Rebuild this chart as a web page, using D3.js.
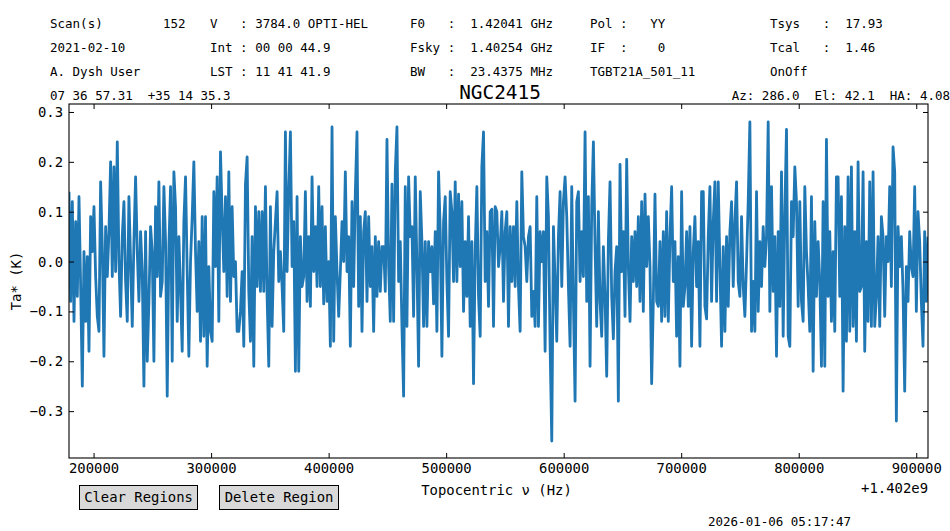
<!DOCTYPE html>
<html>
<head>
<meta charset="utf-8">
<script src="https://cdn.jsdelivr.net/npm/d3@7"></script>
<style>
  body { margin: 0; background: #fff; }
  text { font-family: "DejaVu Sans Mono", monospace; fill: #000; }
</style>
</head>
<body>
<div id="chart"></div>
<script>
// Spectrum: Ta* per channel, channels start at freqStart (Hz, offset from 1.402e9)
const freqStart = 179087;
const chanWidth = 1416.5;
const taValues = [
  0.14, -0.08, 0.12, -0.12, 0.08, -0.07, 0.13, -0.05, -0.25, 0.02,
  -0.12, 0.01, -0.18, 0.09, 0.02, 0.11, -0.03, -0.11, -0.14, 0.16,
  0.03, -0.19, 0.07, -0.03, 0.06, 0.20, -0.03, 0.19, -0.02, 0.24,
  0.0, -0.11, 0.05, 0.12, -0.04, -0.12, 0.13, 0.0, -0.13, 0.04,
  0.17, 0.02, -0.08, 0.06, -0.02, -0.25, 0.06, -0.20, -0.08, 0.07,
  // ~152 px
  0.02, -0.20, 0.11, -0.03, 0.16, -0.07, -0.04, 0.15, 0.04, -0.27,
  0.03, 0.15, -0.20, 0.18, 0.11, -0.12, 0.05, -0.06, -0.18, 0.08,
  0.17, -0.02, -0.19, 0.0, 0.09, 0.20, 0.02, -0.10, 0.04, -0.16,
  0.09, -0.15, 0.09, -0.21, -0.01, -0.14, -0.16, 0.14, -0.01, 0.17,
  -0.12, 0.22, 0.09, -0.02, 0.13, -0.07, 0.18, -0.08, 0.11, -0.03,
  0.0, -0.14,
  // ~238 px
  -0.14, -0.10, -0.02, -0.17, 0.155, 0.21, -0.06, -0.16, 0.05, -0.21,
  0.11, -0.05, 0.10, -0.06, 0.10, -0.06, 0.15, -0.07, -0.21, 0.11,
  -0.13, 0.02, 0.08, 0.14, -0.04, 0.02, -0.05, -0.14, 0.26, -0.02,
  0.14, 0.26, -0.01, 0.08, -0.22, 0.13, -0.22, 0.05, -0.05, -0.03,
  0.14, -0.08, 0.05, -0.09, 0.17, -0.02, 0.07, -0.05, 0.15, -0.05,
  0.11,
  // ~324 px
  -0.085, 0.07, -0.08, 0.0, -0.17, 0.27, -0.16, 0.09, -0.02, -0.11,
  -0.02, 0.08, 0.0, 0.18, -0.02, 0.05, -0.17, 0.12, -0.05, 0.14,
  0.26, -0.09, 0.09, -0.14, 0.06, 0.10, -0.08, 0.09, -0.05, 0.03,
  -0.14, 0.05, -0.07, 0.04, -0.06, 0.03, 0.03, -0.06, 0.245, -0.01,
  -0.12, 0.155, -0.12, 0.18, 0.27, -0.04, 0.04, -0.13, -0.27, 0.15,
  -0.13, 0.17,
  // ~410 px
  0.05, 0.07, -0.11, 0.17, -0.01, -0.21, 0.14, 0.04, -0.13, 0.04,
  -0.13, 0.04, -0.02, 0.03, -0.085, 0.06, -0.14, 0.18, 0.06, -0.19,
  0.08, 0.13, -0.04, -0.15, 0.14, 0.10, -0.04, 0.16, -0.04, 0.135,
  -0.01, 0.12, -0.10, 0.04, -0.07, 0.09, -0.13, 0.04, -0.245, 0.02,
  0.15, -0.07, -0.15, 0.19, 0.26, -0.04, 0.06, -0.09, 0.10, 0.105,
  -0.13, 0.11,
  // ~496 px
  0.10, -0.01, 0.03, 0.10, -0.08, 0.06, 0.10, -0.13, 0.07, -0.04,
  0.07, -0.05, 0.12, -0.05, -0.14, 0.18, 0.05, 0.03, -0.04, 0.05,
  0.07, -0.11, -0.06, -0.13, 0.13, -0.13, 0.06, 0.0, 0.06, -0.18,
  0.17, 0.09, -0.17, -0.36, 0.07, -0.04, -0.16, 0.05, 0.14, -0.05,
  0.12, 0.17, 0.09, -0.05, -0.17, 0.15, -0.08, -0.28, 0.12, 0.14,
  -0.04,
  // ~582 px
  0.06, -0.03, 0.26, -0.08, 0.13, -0.21, 0.11, 0.24, 0.03, -0.13,
  0.10, -0.08, -0.15, 0.03, -0.07, -0.23, 0.04, 0.16, -0.07, -0.155,
  -0.02, 0.03, -0.28, 0.195, -0.02, 0.06, -0.11, 0.205, -0.01, -0.12,
  0.05, -0.04, 0.06, -0.05, 0.09, -0.08, 0.12, -0.10, 0.135, -0.01,
  0.09, -0.01, -0.245, -0.08, 0.135, -0.08, -0.09, 0.04, -0.12, 0.06,
  -0.11, 0.10,
  // ~668 px
  -0.12, 0.05, 0.15, -0.04, 0.04, -0.15, 0.01, -0.21, 0.14, -0.09,
  -0.05, 0.06, -0.09, 0.07, -0.17, 0.02, 0.09, -0.05, 0.04, -0.17,
  0.14, 0.14, -0.09, -0.115, 0.05, 0.15, -0.08, 0.08, 0.16, -0.08,
  0.16, -0.01, -0.17, 0.03, -0.14, 0.05, -0.09, 0.06, 0.12, -0.05,
  0.08, 0.16, -0.04, -0.07, 0.09, -0.05, -0.11, 0.0, 0.12, 0.28,
  -0.14, -0.04,
  // ~754 px
  -0.14, 0.14, -0.10, 0.04, -0.05, 0.07, -0.01, 0.05, 0.28, -0.10,
  0.15, -0.06, 0.05, -0.19, 0.06, -0.09, 0.18, -0.15, 0.10, 0.265,
  -0.15, -0.17, 0.12, 0.05, 0.19, 0.12, -0.09, 0.12, -0.08, -0.12,
  0.15, 0.02, -0.05, -0.14, 0.13, -0.22, 0.08, -0.07, 0.04, -0.04,
  -0.21, 0.12, -0.21, 0.245, -0.07, 0.06, -0.12, 0.02, -0.14, 0.17,
  0.17,
  // ~840 px
  -0.07, 0.13, -0.26, 0.07, -0.16, 0.17, -0.14, 0.19, -0.13, 0.06,
  -0.16, 0.20, -0.06, -0.05, 0.18, -0.18, 0.04, -0.12, 0.16, -0.13,
  0.18, -0.13, -0.07, 0.05, -0.13, 0.09, 0.05, -0.11, 0.05, 0.0,
  0.15, -0.05, 0.23, 0.18, -0.32, 0.07, -0.01, 0.05, -0.06, -0.26,
  -0.01, -0.08, 0.06, -0.01, -0.03, 0.15, -0.10, 0.10, 0.04, -0.08,
  -0.17, 0.06, -0.08, 0.05
];
const xTicks = [200000, 300000, 400000, 500000, 600000, 700000, 800000, 900000];
const yTicks = [-0.3, -0.2, -0.1, 0.0, 0.1, 0.2, 0.3];

const headerRows = [
  ['Scan(s)', '152', 'V   : 3784.0 OPTI-HEL', 'F0   :  1.42041 GHz', 'Pol :   YY', 'Tsys   :  17.93'],
  ['2021-02-10', '', 'Int : 00 00 44.9', 'Fsky :  1.40254 GHz', 'IF  :    0', 'Tcal   :  1.46'],
  ['A. Dysh User', '', 'LST : 11 41 41.9', 'BW   :  23.4375 MHz', 'TGBT21A_501_11', 'OnOff']
];
const headerCols = [50, 163, 210, 410, 590, 770];

const width = 950, height = 531;
const margin = { top: 104, right: 22, bottom: 73, left: 69 };
const innerW = width - margin.left - margin.right;
const innerH = height - margin.top - margin.bottom;

const svg = d3.select('#chart').append('svg')
  .attr('width', width)
  .attr('height', height);

svg.append('rect').attr('width', width).attr('height', height).attr('fill', '#fff');

const data = taValues.map((v, i) => ({ f: freqStart + i * chanWidth, v: v }));

const x = d3.scaleLinear()
  .domain([freqStart, freqStart + (taValues.length - 1) * chanWidth])
  .range([0, innerW]);
const y = d3.scaleLinear()
  .domain([-0.394, 0.316])
  .range([innerH, 0]);

const g = svg.append('g')
  .attr('transform', `translate(${margin.left},${margin.top})`);

// clip so the line stays inside the frame
g.append('clipPath').attr('id', 'plot-clip')
  .append('rect').attr('width', innerW).attr('height', innerH);

g.append('path')
  .datum(data)
  .attr('clip-path', 'url(#plot-clip)')
  .attr('fill', 'none')
  .attr('stroke', '#1f77b4')
  .attr('stroke-width', 2.8)
  .attr('stroke-linejoin', 'round')
  .attr('d', d3.line().x(d => x(d.f)).y(d => y(d.v)));

// Axes with inward ticks on all sides
const styleAxis = sel => {
  sel.select('.domain').remove();
  sel.selectAll('.tick line').attr('stroke', '#000').attr('stroke-width', 1);
  sel.selectAll('text')
    .style('font-family', '"DejaVu Sans Mono", monospace')
    .style('font-size', '13.9px')
    .attr('fill', '#000');
};

g.append('g')
  .attr('transform', `translate(0,${innerH})`)
  .call(d3.axisBottom(x).tickValues(xTicks).tickFormat(d3.format('d'))
    .tickSizeInner(-5).tickSizeOuter(0).tickPadding(5))
  .call(styleAxis);

g.append('g')
  .call(d3.axisTop(x).tickValues(xTicks).tickFormat('')
    .tickSizeInner(-5).tickSizeOuter(0))
  .call(styleAxis);

g.append('g')
  .call(d3.axisLeft(y).tickValues(yTicks).tickFormat(d3.format('.1f'))
    .tickSizeInner(-5).tickSizeOuter(0).tickPadding(6))
  .call(styleAxis);

g.append('g')
  .attr('transform', `translate(${innerW},0)`)
  .call(d3.axisRight(y).tickValues(yTicks).tickFormat('')
    .tickSizeInner(-5).tickSizeOuter(0))
  .call(styleAxis);

g.append('rect')
  .attr('width', innerW).attr('height', innerH)
  .attr('fill', 'none').attr('stroke', '#000').attr('stroke-width', 1.1);

// Axis labels
svg.append('text')
  .attr('x', margin.left + innerW / 2 - 2).attr('y', 495)
  .attr('text-anchor', 'middle')
  .style('font-size', '13.9px')
  .text('Topocentric ν (Hz)');

svg.append('text')
  .attr('x', margin.left + innerW).attr('y', 493)
  .attr('text-anchor', 'end')
  .style('font-size', '13.9px')
  .text('+1.402e9');

svg.append('text')
  .attr('transform', `translate(21,${margin.top + innerH / 2}) rotate(-90)`)
  .attr('text-anchor', 'middle')
  .style('font-size', '13.9px')
  .text('Ta* (K)');

// Header block
headerRows.forEach((row, r) => {
  row.forEach((t, c) => {
    if (!t) return;
    svg.append('text')
      .attr('x', headerCols[c]).attr('y', 28 + r * 24)
      .style('font-size', '12.5px')
      .style('white-space', 'pre')
      .attr('xml:space', 'preserve')
      .text(t);
  });
});

svg.append('text')
  .attr('x', 50).attr('y', 100)
  .style('font-size', '12.5px')
  .attr('xml:space', 'preserve').style('white-space', 'pre')
  .text('07 36 57.31  +35 14 35.3');

svg.append('text')
  .attr('x', 950).attr('y', 100)
  .attr('text-anchor', 'end')
  .style('font-size', '12.5px')
  .attr('xml:space', 'preserve').style('white-space', 'pre')
  .text('Az: 286.0  El: 42.1  HA: 4.08');

svg.append('text')
  .attr('x', 500).attr('y', 99)
  .attr('text-anchor', 'middle')
  .style('font-size', '19.4px')
  .text('NGC2415');

// Buttons
const buttons = [
  { label: 'Clear Regions', x: 79, w: 118 },
  { label: 'Delete Region', x: 219, w: 119 }
];
buttons.forEach(b => {
  svg.append('rect')
    .attr('x', b.x + 0.5).attr('y', 485.5)
    .attr('width', b.w).attr('height', 24)
    .attr('fill', '#d9d9d9').attr('stroke', '#000').attr('stroke-width', 1);
  svg.append('text')
    .attr('x', b.x + b.w / 2 + 0.5).attr('y', 502)
    .attr('text-anchor', 'middle')
    .style('font-size', '13.9px')
    .text(b.label);
});

svg.append('text')
  .attr('x', 708).attr('y', 526)
  .style('font-size', '12.5px')
  .text('2026-01-06 05:17:47');
</script>
</body>
</html>
